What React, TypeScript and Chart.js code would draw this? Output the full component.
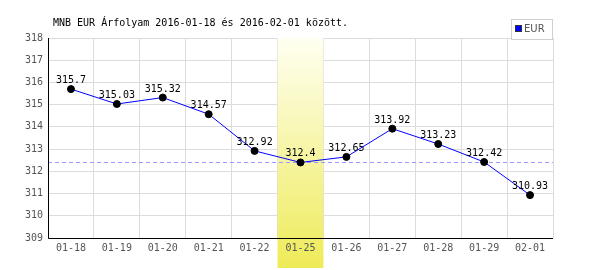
import React, { useEffect, useRef } from "react";
import { Chart, registerables } from "chart.js";

Chart.register(...registerables);

const categories = ["01-18", "01-19", "01-20", "01-21", "01-22", "01-25", "01-26", "01-27", "01-28", "01-29", "02-01"];
const eurValues = [315.7, 315.03, 315.32, 314.57, 312.92, 312.4, 312.65, 313.92, 313.23, 312.42, 310.93];
const highlightIndex = 5;
const referenceValue = 312.4;
const yMin = 309;
const yMax = 318;
const titleText = "MNB EUR Árfolyam 2016-01-18 és 2016-02-01 között.";
const seriesName = "EUR";

const MONO = "'DejaVu Sans Mono', 'Liberation Mono', monospace";

const decorPlugin = {
  id: "decor",
  beforeDatasetsDraw(chart: any) {
    const { ctx, chartArea, scales } = chart;
    const x = scales.x;
    const y = scales.y;
    const w = (chartArea.right - chartArea.left) / categories.length;
    const cx = x.getPixelForValue(highlightIndex);
    const left = cx - w / 2;
    ctx.save();
    const g = ctx.createLinearGradient(0, chartArea.top, 0, 268);
    g.addColorStop(0, "#fffff2");
    g.addColorStop(1, "#eeeb58");
    ctx.fillStyle = g;
    ctx.fillRect(left, chartArea.top, w, 268 - chartArea.top);
    // reference dashed line
    const ry = Math.round(y.getPixelForValue(referenceValue)) + 0.5;
    ctx.strokeStyle = "#9999ff";
    ctx.lineWidth = 1;
    ctx.setLineDash([4, 3]);
    ctx.beginPath();
    ctx.moveTo(chartArea.left, ry);
    ctx.lineTo(chartArea.right, ry);
    ctx.stroke();
    ctx.setLineDash([]);
    // axes
    ctx.strokeStyle = "#000";
    ctx.lineWidth = 1;
    ctx.beginPath();
    const ax = Math.round(chartArea.left) + 0.5;
    const ay = Math.round(chartArea.bottom) + 0.5;
    ctx.moveTo(ax, chartArea.top);
    ctx.lineTo(ax, ay);
    ctx.lineTo(chartArea.right, ay);
    ctx.stroke();
    // x tick labels (drawn over the band)
    ctx.font = "10px " + MONO;
    ctx.fillStyle = "#555";
    ctx.textAlign = "center";
    ctx.textBaseline = "middle";
    categories.forEach((c, i) => {
      ctx.fillText(c, x.getPixelForValue(i), chartArea.bottom + 10);
    });
    ctx.restore();
  },
  afterDatasetsDraw(chart: any) {
    const { ctx } = chart;
    const meta = chart.getDatasetMeta(0);
    ctx.save();
    ctx.font = "10px " + MONO;
    ctx.fillStyle = "#000";
    ctx.textAlign = "center";
    ctx.textBaseline = "alphabetic";
    meta.data.forEach((pt: any, i: number) => {
      ctx.fillText(String(eurValues[i]), pt.x, pt.y - 6);
    });
    ctx.restore();
  },
  afterDraw(chart: any) {
    const { ctx } = chart;
    ctx.save();
    // title
    ctx.font = "10px " + MONO;
    ctx.fillStyle = "#000";
    ctx.textAlign = "left";
    ctx.textBaseline = "middle";
    ctx.fillText(titleText, 53, 23);
    // legend
    ctx.fillStyle = "#fff";
    ctx.fillRect(511, 19, 42, 20);
    ctx.strokeStyle = "#d0d0d0";
    ctx.lineWidth = 1;
    ctx.strokeRect(511.5, 19.5, 41, 20);
    ctx.fillStyle = "#0000ff";
    ctx.fillRect(516, 26, 5, 5);
    ctx.strokeStyle = "#333";
    ctx.strokeRect(515.5, 25.5, 6, 6);
    ctx.fillStyle = "#555";
    ctx.font = "10px 'DejaVu Sans', sans-serif";
    ctx.textBaseline = "middle";
    ctx.fillText(seriesName, 524, 29);
    ctx.restore();
  },
};

export default function App() {
  const ref = useRef<HTMLCanvasElement>(null);
  useEffect(() => {
    if (!ref.current) return;
    const chart = new Chart(ref.current, {
      type: "line",
      data: {
        labels: categories,
        datasets: [
          {
            label: seriesName,
            data: eurValues,
            borderColor: "#0000ff",
            borderWidth: 1,
            pointBackgroundColor: "#000",
            pointBorderColor: "#000",
            pointRadius: 3.5,
            tension: 0,
            fill: false,
          },
        ],
      },
      options: {
        animation: false,
        responsive: false,
        layout: { padding: { top: 38, right: 47, left: 0, bottom: 0 } },
        plugins: {
          legend: { display: false },
          title: { display: false },
          tooltip: { enabled: false },
        },
        scales: {
          x: {
            offset: true,
            grid: { offset: true, color: "#dcdcdc", drawTicks: false },
            border: { display: false },
            ticks: {
              color: "rgba(0,0,0,0)",
              font: { family: MONO, size: 10 },
              padding: 5,
              maxRotation: 0,
              autoSkip: false,
            },
            afterFit(scale: any) {
              scale.height = 32;
            },
          },
          y: {
            min: yMin,
            max: yMax,
            grid: { color: "#dcdcdc", drawTicks: false },
            border: { display: false },
            ticks: {
              stepSize: 1,
              color: "#555",
              font: { family: MONO, size: 10 },
              padding: 5,
            },
            afterFit(scale: any) {
              scale.width = 48;
            },
          },
        },
      },
      plugins: [decorPlugin],
    });
    return () => chart.destroy();
  }, []);
  return (
    <div style={{ position: "fixed", left: 0, top: 0, width: 600, height: 270, background: "#fff" }}>
      <canvas ref={ref} width={600} height={270} style={{ display: "block" }} />
    </div>
  );
}
